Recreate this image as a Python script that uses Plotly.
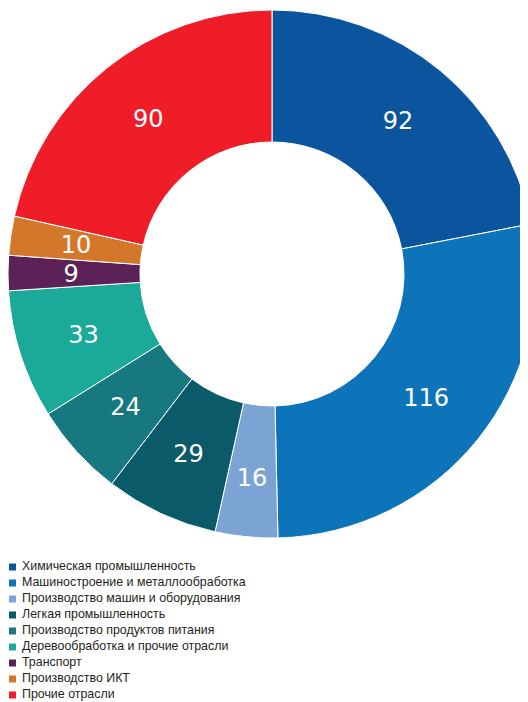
import plotly.graph_objects as go

categories = [
    "Химическая промышленность",
    "Машиностроение и металлообработка",
    "Производство машин и оборудования",
    "Легкая промышленность",
    "Производство продуктов питания",
    "Деревообработка и прочие отрасли",
    "Транспорт",
    "Производство ИКТ",
    "Прочие отрасли",
]
values = [92, 116, 16, 29, 24, 33, 9, 10, 90]
colors = ["#0A559E", "#0E74BA", "#7BA4D5", "#0B5A69", "#17787F",
          "#1BA999", "#5C2157", "#D3782A", "#EE1D27"]

W, H = 528, 702
CX, CY, R = 264, 266, 264   # donut centre / radius in figure pixels
SMALL = 15                  # slices below this get labels on a thinner ring


def dom(r):
    return dict(x=[(CX - r) / W, (CX + r) / W],
                y=[(H - (CY + r)) / H, (H - (CY - r)) / H])


fig = go.Figure()

# Donut
fig.add_trace(go.Pie(
    labels=categories,
    values=values,
    marker=dict(colors=colors, line=dict(color="white", width=1)),
    hole=0.5,
    sort=False,
    direction="clockwise",
    rotation=0,
    textinfo="none",
    showlegend=False,
    hoverinfo="label+value",
    domain=dom(R),
))

# Value labels: transparent pies of the same values on mid rings
for r_out, r_in, keep in [(230, 166, lambda v: v >= SMALL),
                          (208, 188, lambda v: v < SMALL)]:
    fig.add_trace(go.Pie(
        labels=categories,
        values=values,
        marker=dict(colors=["rgba(0,0,0,0)"] * len(values), line=dict(width=0)),
        hole=r_in / r_out,
        sort=False,
        direction="clockwise",
        rotation=0,
        text=[str(v) if keep(v) else "" for v in values],
        textinfo="text",
        textposition="inside",
        insidetextorientation="horizontal",
        textfont=dict(family="DejaVu Sans", size=24, color="white"),
        showlegend=False,
        hoverinfo="skip",
        domain=dom(r_out),
    ))

# Legend (drawn as scatter traces in pixel-unit axes)
leg_y = [559 + 16 * i for i in range(len(categories))]
fig.add_trace(go.Scatter(
    x=[4.5] * len(categories),
    y=leg_y,
    mode="markers",
    marker=dict(symbol="square", size=7, color=colors, line=dict(width=0)),
    showlegend=False,
    hoverinfo="skip",
    cliponaxis=False,
))
fig.add_trace(go.Scatter(
    x=[14] * len(categories),
    y=leg_y,
    mode="text",
    text=categories,
    textposition="middle right",
    textfont=dict(family="Liberation Sans, Arial", size=12.4, color="#231F20"),
    showlegend=False,
    hoverinfo="skip",
    cliponaxis=False,
))

fig.update_layout(
    width=W,
    height=H,
    margin=dict(l=0, r=0, t=0, b=0),
    paper_bgcolor="white",
    plot_bgcolor="rgba(0,0,0,0)",
    uniformtext=dict(minsize=24, mode="show"),
    xaxis=dict(range=[0, W], visible=False, fixedrange=True),
    yaxis=dict(range=[H, 0], visible=False, fixedrange=True),
)

fig.write_html("out.html")
